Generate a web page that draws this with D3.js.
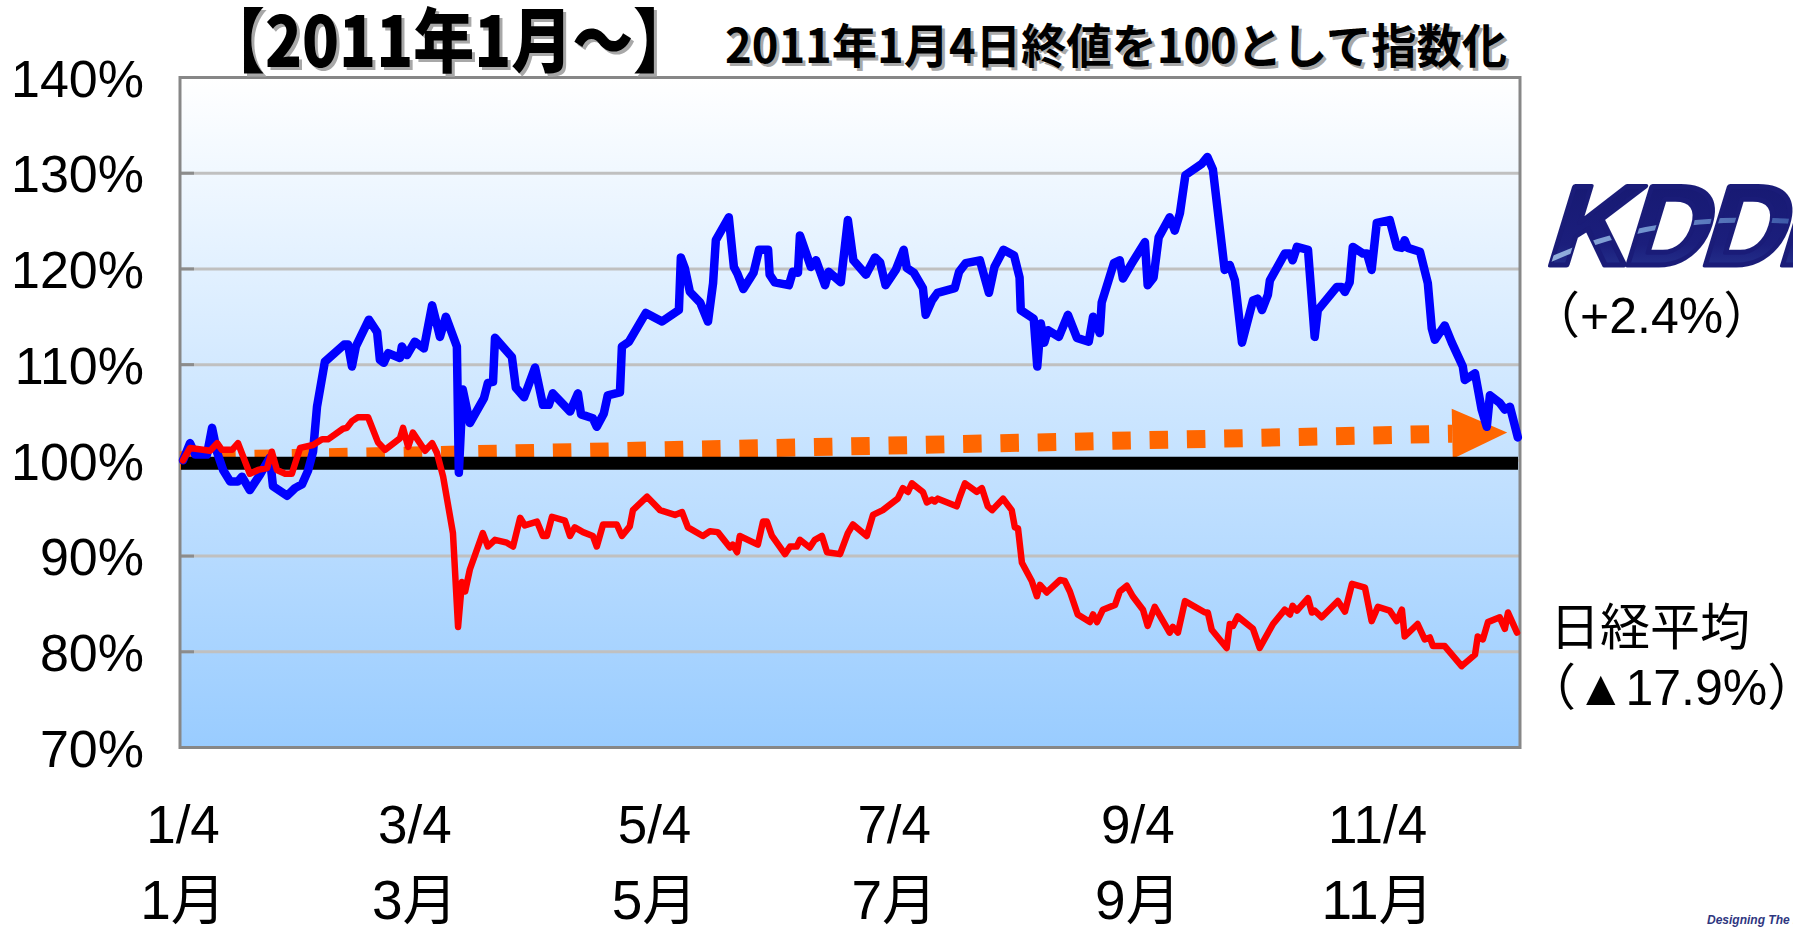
<!DOCTYPE html>
<html><head><meta charset="utf-8">
<script src="https://cdn.jsdelivr.net/npm/d3@7"></script>
<style>body{margin:0;background:#fff;} svg{display:block;}</style>
</head><body><svg id="c" width="1793" height="930"></svg>
<script>
// ---- data (days since 2011-01-04, index: 2011-01-04 close = 100) ----
const kddiDay = [0,1.8,3.1,6.1,7.4,8.7,10.2,12.0,14.0,15.0,17.0,19.6,22.1,22.9,26.5,28.5,30.3,31.8,33.1,34.1,36.1,41.0,42.0,43.0,44.0,47.3,49.4,50.1,51.1,52.2,55.2,55.7,57.0,59.0,61.3,63.4,65.4,66.9,69.7,70.2,71.2,73.0,76.6,77.6,78.9,79.4,83.7,84.7,86.8,89.6,91.6,93.1,94.1,98.5,100.5,101.3,104.3,105.3,107.1,108.1,111.2,111.7,113.5,117.8,121.9,126.2,126.7,127.7,129.0,131.6,133.6,134.9,135.6,138.9,140.2,141.1,142.6,145.2,146.6,148.9,149.3,150.6,154.2,155.2,156.5,157.0,159.8,161.1,163.4,164.3,167.4,169.2,170.6,173.8,176.1,177.4,178.8,181.4,183.4,184.2,186.0,188.3,189.0,190.6,192.0,196.4,197.5,199.2,202.8,205.1,206.5,208.8,211.5,212.9,213.2,216.5,217.4,218.3,219.2,220.1,222.9,225.2,227.5,230.5,231.6,233.3,233.8,236.9,238.4,239.2,241.5,244.8,245.5,247.0,248.3,251.1,252.4,253.7,255.1,259.3,260.7,262.1,265.1,266.4,267.7,269.5,272.3,273.5,274.6,276.1,276.6,280.4,281.7,282.4,283.5,286.3,288.0,288.8,293.6,294.9,295.7,296.9,297.7,300.3,301.3,302.5,303.8,307.1,308.9,310.2,310.9,311.7,314.8,316.8,317.8,318.6,321.1,322.9,325.7,326.2,328.8,330.5,331.8,332.6,335.1,336.4,337.7,339.7];
const kddiVal = [100.0,101.8,100.6,100.6,103.4,100.8,99.0,97.8,97.8,98.3,96.9,98.5,100.3,97.3,96.3,97.1,97.5,98.9,100.9,105.6,110.3,112.1,112.1,109.8,111.9,114.7,113.4,110.5,110.2,111.2,110.7,111.9,111.0,112.4,111.7,116.2,112.9,115.0,111.9,98.7,107.4,103.9,106.5,108.1,108.2,112.8,110.8,107.6,106.6,109.7,105.8,105.8,107.0,105.1,107.0,104.8,104.4,103.5,104.9,106.8,107.1,111.9,112.4,115.4,114.5,115.7,121.2,120.1,117.6,116.5,114.5,118.5,123.0,125.4,120.2,119.5,117.9,119.6,122.0,122.0,119.4,118.6,118.3,119.7,119.6,123.5,120.2,120.9,118.3,119.7,118.6,125.1,120.9,119.4,121.2,120.7,118.3,119.9,122.0,120.1,119.6,118.0,115.2,116.7,117.5,118.0,119.7,120.6,120.9,117.5,120.2,122.0,121.4,119.1,115.7,114.8,109.8,114.3,112.3,113.6,112.9,115.2,112.8,112.4,115.0,113.3,116.5,120.6,120.9,119.0,120.6,122.8,118.3,119.1,123.3,125.4,124.0,125.8,129.8,131.0,131.7,130.4,119.9,120.4,118.8,112.3,116.7,116.9,115.7,117.3,118.8,121.6,121.6,120.9,122.3,122.0,112.9,115.7,118.1,118.1,117.6,118.6,122.3,121.6,121.6,119.9,124.8,125.1,122.3,122.2,123.0,122.2,121.8,118.5,113.8,112.6,114.1,112.3,109.8,108.4,109.1,105.3,103.5,106.8,106.0,105.3,105.6,102.4];
const nikkeiDay = [0,1.8,6.9,8.7,9.9,12.5,14.0,17.0,19.1,21.4,22.6,23.9,26.0,27.7,29.8,33.1,35.4,36.9,40.7,41.7,43.0,44.5,47.1,49.6,51.4,55.2,56.0,57.3,58.5,61.6,63.4,64.6,66.2,68.7,70.0,71.0,71.8,73.0,76.3,77.6,79.4,82.4,84.0,85.8,87.0,90.1,91.6,92.6,93.9,97.2,98.5,99.7,101.8,104.3,105.3,106.9,110.4,111.7,113.7,114.5,118.1,121.4,125.2,127.0,128.5,132.3,134.1,136.1,139.2,139.9,141.0,141.7,146.3,147.6,148.6,149.9,153.2,154.5,156.2,157.0,159.5,160.8,162.6,163.9,167.2,169.2,170.5,174.0,175.6,178.1,181.9,183.2,184.5,185.5,188.3,189.3,190.6,191.3,192.1,196.9,197.7,199.0,202.0,203.3,204.8,205.9,208.7,210.9,211.7,212.5,213.5,216.0,217.3,218.1,219.8,223.2,224.4,225.7,227.7,230.8,231.6,232.6,234.1,237.2,238.4,240.2,241.7,244.3,245.5,247.3,251.1,251.9,253.2,255.0,260.1,260.8,261.8,265.6,266.4,267.2,268.4,272.3,274.0,277.4,280.4,281.7,282.4,283.5,286.3,287.3,288.0,289.8,293.9,295.7,297.5,300.8,302.5,304.1,307.1,308.9,310.2,310.9,314.2,316.0,317.3,318.1,321.1,325.4,328.8,329.5,330.8,332.1,335.1,336.4,337.2,339.5];
const nikkeiVal = [100,101.3,101.0,101.8,101.1,101.1,101.8,98.6,99.0,99.2,100.9,99.0,98.6,98.6,101.3,101.6,102.2,102.2,103.3,103.4,104.1,104.5,104.5,101.9,101.1,102.3,103.4,101.4,102.9,101.0,101.8,100.8,98.3,92.4,82.6,87.3,86.3,88.6,92.4,91.0,91.7,91.4,91.0,94.0,93.2,93.6,92.1,92.1,94.1,93.7,92.1,93.0,92.5,92.1,91.0,93.3,93.3,92.1,93.1,94.8,96.2,94.8,94.3,94.6,93.0,92.1,92.6,92.5,90.9,91.2,90.4,92.1,91.2,93.6,93.6,92.1,90.2,91.0,91.0,91.7,90.9,91.7,92.1,90.4,90.2,92.4,93.3,92.1,94.3,94.8,96.0,97.1,96.7,97.6,96.7,95.6,95.9,95.7,96.0,95.2,96.2,97.6,96.7,97.1,95.2,94.8,96.0,94.8,93.0,92.9,89.3,87.4,85.8,87.0,86.2,87.5,87.4,86.3,83.9,83.1,83.9,83.1,84.4,84.9,86.3,86.9,85.8,84.4,82.7,84.7,82.0,82.6,82.0,85.3,84.1,84.1,82.3,80.4,82.9,82.7,83.7,82.4,80.4,82.9,84.4,83.9,84.8,84.3,85.6,84.1,84.3,83.6,85.3,84.2,87.1,86.7,83.2,84.7,84.3,83.2,84.4,81.6,82.9,81.3,81.5,80.6,80.6,78.5,79.7,81.6,81.3,83.1,83.6,82.4,84.1,82.0];
const trendDay = [0, 337];
const trendVal = [100, 102.9];
const baseVal = 100;
const yTicks = [70, 80, 90, 100, 110, 120, 130, 140];
const xTickDays = [0, 59, 120, 181, 243, 304];
const xTickDates = ["1/4", "3/4", "5/4", "7/4", "9/4", "11/4"];
const xTickMonths = ["1月", "3月", "5月", "7月", "9月", "11月"];
const titleText = "【2011年1月～】";
const subtitleText = "2011年1月4日終値を100として指数化";
const kddiName = "KDDI", kddiChange = "（+2.4%）";
const nikkeiName = "日経平均", nikkeiChange = "（▲17.9%）";
const footerText = "Designing The Future";
const lastDay = 340;

// ---- scales ----
const t0 = new Date(Date.UTC(2011, 0, 4));
const toDate = d => new Date(t0.getTime() + d * 86400000);
const x = d3.scaleUtc().domain([t0, toDate(lastDay)]).range([183, 1519]);
const y = d3.scaleLinear().domain([70, 140]).range([747.5, 77.5]);

const svg = d3.select("#c");
const defs = svg.append("defs");
const bg = defs.append("linearGradient").attr("id", "bg").attr("x1", 0).attr("y1", 0).attr("x2", 0).attr("y2", 1);
bg.append("stop").attr("offset", "0%").attr("stop-color", "#FFFFFF");
bg.append("stop").attr("offset", "100%").attr("stop-color", "#99CCFF");

const L = 180, R = 1520;
svg.append("rect").attr("x", L).attr("y", y(140)).attr("width", R - L).attr("height", y(70) - y(140))
  .attr("fill", "url(#bg)");

svg.append("g").selectAll("line").data(yTicks.filter(v => v > 70 && v < 140)).join("line")
  .attr("x1", L).attr("x2", R).attr("y1", d => y(d)).attr("y2", d => y(d))
  .attr("stroke", "#C0C0C0").attr("stroke-width", 3);
svg.append("g").selectAll("line").data(yTicks).join("line")
  .attr("x1", L).attr("x2", L + 14).attr("y1", d => y(d)).attr("y2", d => y(d))
  .attr("stroke", "#8C8C8C").attr("stroke-width", 3);

svg.append("rect").attr("x", L).attr("y", y(140)).attr("width", R - L).attr("height", y(70) - y(140))
  .attr("fill", "none").attr("stroke", "#878787").attr("stroke-width", 3);

svg.append("g").selectAll("text").data(yTicks).join("text")
  .attr("x", 144).attr("y", d => y(d)).attr("dy", "0.37em")
  .attr("text-anchor", "end").attr("font-family", "'Liberation Sans', Arial, sans-serif")
  .attr("font-size", 52).attr("fill", "#000").text(d => d + "%");

svg.append("g").selectAll("text").data(xTickDays).join("text")
  .attr("x", d => x(toDate(d))).attr("y", 843).attr("text-anchor", "middle")
  .attr("font-family", "'Liberation Sans', Arial, sans-serif").attr("font-size", 53)
  .text((d, i) => xTickDates[i]);
svg.append("g").selectAll("text").data(xTickDays).join("text")
  .attr("x", d => x(toDate(d))).attr("y", 919).attr("text-anchor", "middle")
  .attr("font-family", "'Liberation Sans', 'Noto Sans CJK JP', sans-serif").attr("font-size", 55)
  .text((d, i) => xTickMonths[i]);

// trend arrow (orange, square dots)
const p0 = [x(toDate(trendDay[0])), y(trendVal[0])];
const p1 = [x(toDate(trendDay[1])), y(trendVal[1])];
const ang = Math.atan2(p1[1] - p0[1], p1[0] - p0[0]);
const headLen = 55, headHalf = 25;
const pb = [p1[0] - headLen * Math.cos(ang), p1[1] - headLen * Math.sin(ang)];
svg.append("line").attr("x1", p0[0] - 3).attr("y1", p0[1]).attr("x2", pb[0]).attr("y2", pb[1])
  .attr("stroke", "#FF6600").attr("stroke-width", 18).attr("stroke-dasharray", "18.5 18.8");
svg.append("polygon").attr("fill", "#FF6600")
  .attr("points", [
    p1,
    [pb[0] - headHalf * Math.sin(ang), pb[1] + headHalf * Math.cos(ang)],
    [pb[0] + headHalf * Math.sin(ang), pb[1] - headHalf * Math.cos(ang)]
  ].map(p => p.join(",")).join(" "));

svg.append("line").attr("x1", L + 1).attr("x2", R - 2).attr("y1", y(baseVal) + 3).attr("y2", y(baseVal) + 3)
  .attr("stroke", "#000").attr("stroke-width", 13);

const line = d3.line().x(d => x(toDate(d[0]))).y(d => y(d[1]));
svg.append("path").datum(kddiDay.map((d, i) => [d, kddiVal[i]])).attr("d", line)
  .attr("fill", "none").attr("stroke", "#0000FF").attr("stroke-width", 8.5)
  .attr("stroke-linejoin", "round").attr("stroke-linecap", "round");
svg.append("path").datum(nikkeiDay.map((d, i) => [d, nikkeiVal[i]])).attr("d", line)
  .attr("fill", "none").attr("stroke", "#FF0000").attr("stroke-width", 6.5)
  .attr("stroke-linejoin", "round").attr("stroke-linecap", "round");

function shadowText(txt, xx, yy, size, len, weight) {
  [["#A8A8A8", 3], ["#000", 0]].forEach(([col, off]) => {
    svg.append("text").attr("x", xx + off).attr("y", yy + off)
      .attr("font-family", "'Noto Sans CJK JP', sans-serif").attr("font-weight", weight)
      .attr("font-size", size).attr("fill", col)
      .attr("textLength", len).attr("lengthAdjust", "spacingAndGlyphs").text(txt);
  });
}
shadowText(titleText, 204, 67, 70, 490, 900);
shadowText(subtitleText, 725, 63, 47, 782, 700);

// KDDI logo
const lg = defs.append("linearGradient").attr("id", "lg").attr("x1", 0).attr("y1", 0).attr("x2", 0).attr("y2", 1);
lg.append("stop").attr("offset", "0%").attr("stop-color", "#161870");
lg.append("stop").attr("offset", "65%").attr("stop-color", "#1B1E7C");
lg.append("stop").attr("offset", "100%").attr("stop-color", "#2C3F98");
const cp = defs.append("clipPath").attr("id", "kclip");
const logoAttrs = s => s.attr("x", 0).attr("y", 0).attr("font-family", "'Liberation Sans', Arial, sans-serif")
  .attr("font-weight", 700).attr("font-size", 114).attr("letter-spacing", -5).text(kddiName);
cp.append("text").call(logoAttrs).attr("transform", "translate(1543,265) skewX(-17)")
  .attr("stroke", "#000").attr("stroke-width", 5);
const logoG = svg.append("g").attr("transform", "translate(1543,265) skewX(-17)");
logoG.append("text").call(logoAttrs).attr("fill", "url(#lg)")
  .attr("stroke", "#1A1C78").attr("stroke-width", 5).attr("stroke-linejoin", "round");
const sw = defs.append("linearGradient").attr("id", "sw").attr("x1", 0).attr("y1", 0).attr("x2", 1).attr("y2", 0);
sw.append("stop").attr("offset", "0%").attr("stop-color", "#B5D3F2");
sw.append("stop").attr("offset", "45%").attr("stop-color", "#7FA6DC");
sw.append("stop").attr("offset", "100%").attr("stop-color", "#3F5FAE");
svg.append("path").attr("clip-path", "url(#kclip)")
  .attr("d", "M1525,272 Q1640,210 1800,222")
  .attr("fill", "none").attr("stroke", "url(#sw)").attr("stroke-width", 5).attr("opacity", 0.85);

const rf = "'Liberation Sans', 'Noto Sans CJK JP', sans-serif";
svg.append("text").attr("x", 1530).attr("y", 333).attr("font-family", rf).attr("font-size", 50).text(kddiChange);
svg.append("text").attr("x", 1550).attr("y", 645).attr("font-family", "'Noto Sans CJK JP', sans-serif").attr("font-size", 50).text(nikkeiName);
svg.append("text").attr("x", 1526).attr("y", 705).attr("font-family", rf).attr("font-size", 50).text(nikkeiChange);

svg.append("text").attr("x", 1707).attr("y", 924).attr("font-family", "'Liberation Sans', Arial, sans-serif")
  .attr("font-style", "italic").attr("font-weight", 700).attr("font-size", 12).attr("fill", "#2E3680").text(footerText);
</script></body></html>
